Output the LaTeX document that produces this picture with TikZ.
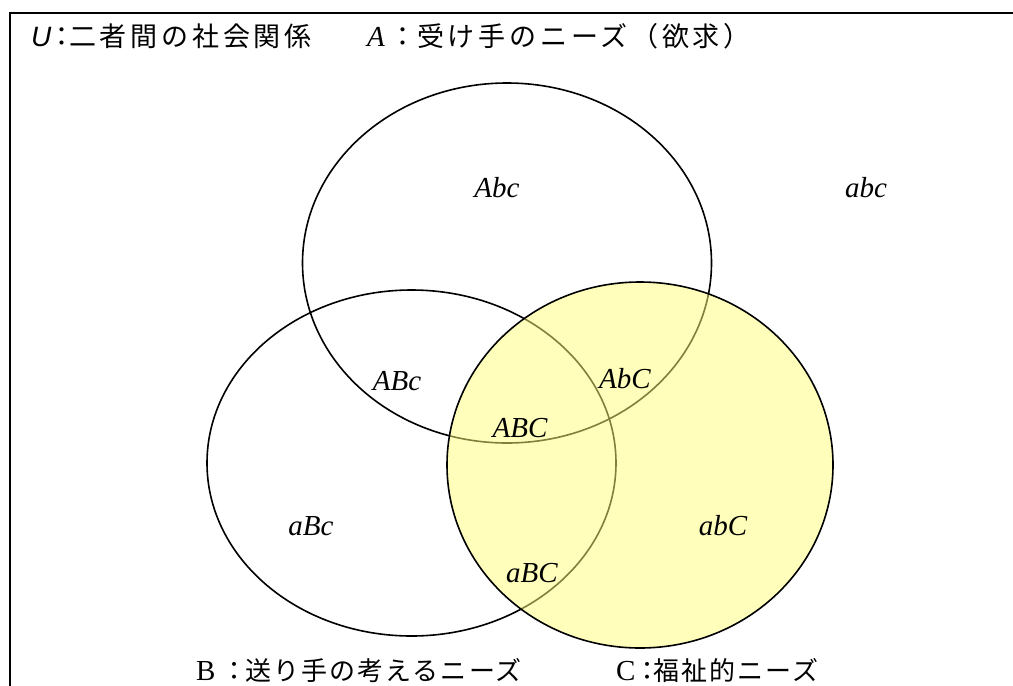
\documentclass[tikz,border=0pt]{standalone}
\usepackage{fontspec}
\setmainfont{Liberation Serif}
\newfontfamily\jpfont[LetterSpace=14]{Noto Sans CJK JP}
\newfontfamily\jpbot[LetterSpace=8]{Noto Sans CJK JP}
\newfontfamily\lsans{Liberation Sans}
\definecolor{cfill}{RGB}{255,255,120}
\begin{document}
\begin{tikzpicture}[x=1pt,y=-1pt,
  ell/.style={line width=1.6pt},
  lab/.style={anchor=base, inner sep=0pt, font=\fontsize{29}{30}\selectfont\itshape},
  ttl/.style={anchor=base west, inner sep=0pt, font=\fontsize{27}{29}\selectfont\jpfont},
  btl/.style={anchor=base west, inner sep=0pt, font=\fontsize{26}{28}\selectfont\jpbot},
  ltr/.style={anchor=base west, inner sep=0pt, font=\fontsize{29}{30}\selectfont},
]
\useasboundingbox (0,0) rectangle (1013,686);
\draw[line width=2pt] (10,686) -- (10,13) -- (1013,13);

% sets
\draw[ell] (507,263) ellipse (204.5 and 180);
\draw[ell] (411.5,463) ellipse (204.5 and 173);
\fill[cfill, fill opacity=0.5] (640,465) ellipse (193 and 183);
\draw[ell] (640,465) ellipse (193 and 183);

% region labels
\node[lab] (Abc) at (497,197) {Abc};
\node[lab] (abc) at (866,197) {abc};
\node[lab] (ABc) at (397,390) {ABc};
\node[lab] (AbC) at (625,388) {AbC};
\node[lab] (ABC) at (520,437) {ABC};
\node[lab] (aBc) at (311,535) {aBc};
\node[lab] (abC) at (723,535) {abC};
\node[lab] (aBC) at (532,582) {aBC};

% top titles
\node[ltr, font=\fontsize{28}{30}\selectfont\lsans\itshape] (U) at (31,46) {U};
\node[ttl] (Ucol) at (48,46) {：};
\node[ttl] (Utxt) at (69,46) {二者間の社会関係};
\node[ltr, font=\fontsize{29}{30}\selectfont\itshape] (A) at (367,46) {A};
\node[ttl] (Acol) at (389,46) {：};
\node[ttl] (Atxt) at (417,46) {受け手のニーズ（欲求）};

% bottom titles
\node[ltr] (B) at (196,680) {B};
\node[btl] (Bcol) at (221,680) {：};
\node[btl] (Btxt) at (245,680) {送り手の考えるニーズ};
\node[ltr] (C) at (616,680) {C};
\node[btl] (Ccol) at (634,680) {：};
\node[btl] (Ctxt) at (653,680) {福祉的ニーズ};
\end{tikzpicture}
\end{document}
